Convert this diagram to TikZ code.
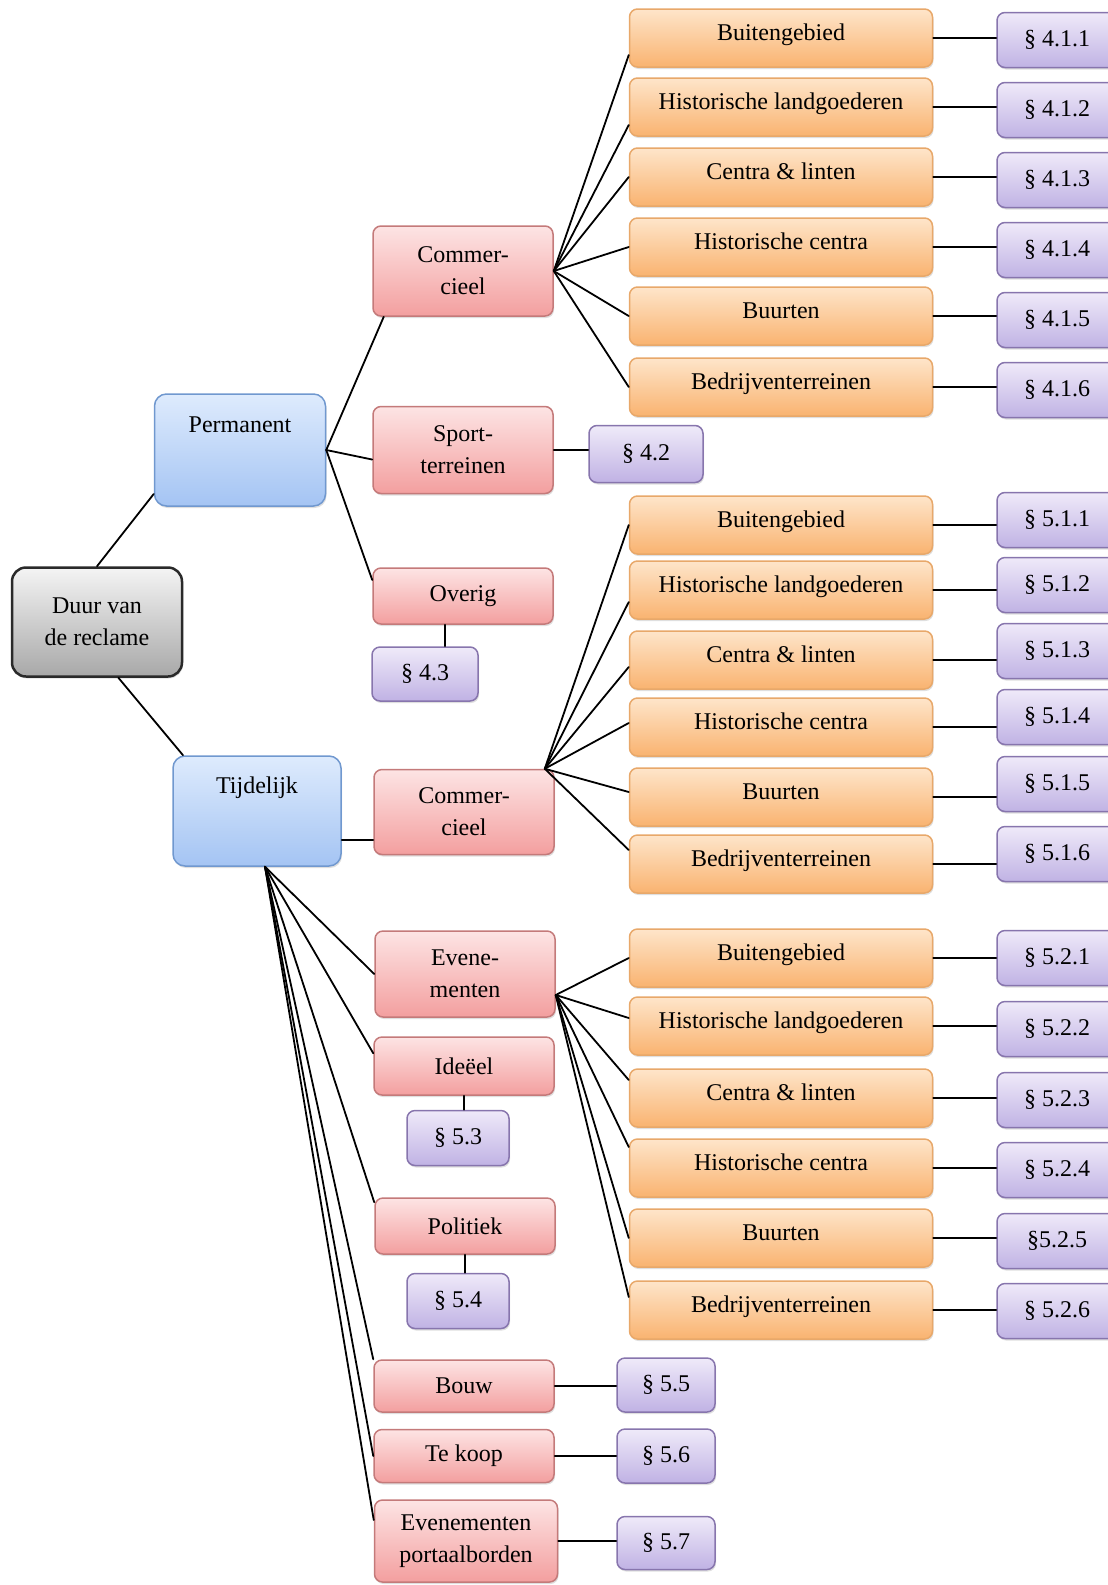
\documentclass[tikz,border=0pt]{standalone}
\usepackage{fontspec}
\setmainfont{Liberation Serif}
\usetikzlibrary{shadows}
\definecolor{roottop}{HTML}{F4F4F4}
\definecolor{rootbot}{HTML}{A8A8A8}
\definecolor{rootline}{HTML}{2A2A2A}
\definecolor{kindtop}{HTML}{DEEBFD}
\definecolor{kindbot}{HTML}{A4C4F3}
\definecolor{kindline}{HTML}{7098CF}
\definecolor{cattop}{HTML}{FDE4E4}
\definecolor{catbot}{HTML}{F39F9F}
\definecolor{catline}{HTML}{C47A7A}
\definecolor{areatop}{HTML}{FEE5CA}
\definecolor{areabot}{HTML}{F9B370}
\definecolor{arealine}{HTML}{E8A86A}
\definecolor{sectop}{HTML}{EFEAF9}
\definecolor{secbot}{HTML}{C0B2E4}
\definecolor{secline}{HTML}{8775AD}
\tikzset{
  box/.style={rounded corners=8pt, line width=1.5pt, align=center, inner sep=2pt,
    font=\fontsize{24}{32}\selectfont,
    drop shadow={shadow xshift=1pt, shadow yshift=-2pt, opacity=0.25}},
  rootbox/.style={box, draw=rootline, top color=roottop, bottom color=rootbot,
    line width=2.5pt, rounded corners=14pt},
  kindbox/.style={box, draw=kindline, top color=kindtop, bottom color=kindbot,
    rounded corners=12pt, text height=17pt, text depth=53pt},
  catbox/.style={box, draw=catline, top color=cattop, bottom color=catbot, minimum width=180pt},
  areabox/.style={box, draw=arealine, top color=areatop, bottom color=areabot,
    minimum width=303pt, minimum height=58pt, text height=17pt, text depth=13pt},
  secbox/.style={box, draw=secline, top color=sectop, bottom color=secbot,
    minimum height=55pt, text height=17pt, text depth=5pt},
  seccol/.style={secbox, minimum width=120pt},
  link/.style={line width=1.8pt, black}
}
\begin{document}
\begin{tikzpicture}[line cap=round,line join=round,x=1pt,y=-1pt]
\useasboundingbox (0,0) rectangle (1108,1585);
\clip (0,0) rectangle (1108,1585);

\node[rootbox, minimum width=170pt, minimum height=109pt] (duur) at (97,622) {Duur van\\de reclame};
\node[kindbox, minimum width=171pt, minimum height=112pt] (perm) at (240,450) {Permanent};
\node[kindbox, minimum width=168pt, minimum height=110pt] (tij) at (257,811) {Tijdelijk};

\node[catbox, minimum height=90pt] (c1) at (463,271) {Commer-\\cieel};
\node[catbox, minimum height=87pt] (sp) at (463,450) {Sport-\\terreinen};
\node[catbox, minimum height=56pt] (ov) at (463,596) {Overig};
\node[secbox, minimum width=106pt, minimum height=54pt] (s43) at (425,674) {§ 4.3};
\node[secbox, minimum width=114pt, minimum height=57pt] (s42) at (646,454) {§ 4.2};

\node[catbox, minimum height=85pt] (c2) at (464,812) {Commer-\\cieel};
\node[catbox, minimum height=86pt] (ev) at (465,974) {Evene-\\menten};
\node[catbox, minimum height=58pt] (ide) at (464,1066) {Ideëel};
\node[secbox, minimum width=102pt] (s53) at (458,1138) {§ 5.3};
\node[catbox, minimum height=56pt] (pol) at (465,1226) {Politiek};
\node[secbox, minimum width=102pt] (s54) at (458,1301) {§ 5.4};
\node[catbox, minimum height=52pt] (bouw) at (464,1386) {Bouw};
\node[catbox, minimum height=53pt] (koop) at (464,1456) {Te koop};
\node[catbox, minimum width=183pt, minimum height=82pt] (ep) at (466,1541) {Evenementen\\portaalborden};
\node[secbox, minimum width=98pt, minimum height=54pt] (s55) at (666,1385) {§ 5.5};
\node[secbox, minimum width=98pt, minimum height=54pt] (s56) at (666,1456) {§ 5.6};
\node[secbox, minimum width=98pt, minimum height=53pt] (s57) at (666,1543) {§ 5.7};

\node[areabox] (a11) at (781,38) {Buitengebied};
\node[areabox] (a12) at (781,107) {Historische landgoederen};
\node[areabox] (a13) at (781,177) {Centra \& linten};
\node[areabox] (a14) at (781,247) {Historische centra};
\node[areabox] (a15) at (781,316) {Buurten};
\node[areabox] (a16) at (781,387) {Bedrijventerreinen};
\node[seccol] (s11) at (1057,40) {§ 4.1.1};
\node[seccol] (s12) at (1057,110) {§ 4.1.2};
\node[seccol] (s13) at (1057,180) {§ 4.1.3};
\node[seccol] (s14) at (1057,250) {§ 4.1.4};
\node[seccol] (s15) at (1057,320) {§ 4.1.5};
\node[seccol] (s16) at (1057,390) {§ 4.1.6};

\node[areabox] (a21) at (781,525) {Buitengebied};
\node[areabox] (a22) at (781,590) {Historische landgoederen};
\node[areabox] (a23) at (781,660) {Centra \& linten};
\node[areabox] (a24) at (781,727) {Historische centra};
\node[areabox] (a25) at (781,797) {Buurten};
\node[areabox] (a26) at (781,864) {Bedrijventerreinen};
\node[seccol] (s21) at (1057,520) {§ 5.1.1};
\node[seccol] (s22) at (1057,585) {§ 5.1.2};
\node[seccol] (s23) at (1057,651) {§ 5.1.3};
\node[seccol] (s24) at (1057,717) {§ 5.1.4};
\node[seccol] (s25) at (1057,784) {§ 5.1.5};
\node[seccol] (s26) at (1057,854) {§ 5.1.6};

\node[areabox] (a31) at (781,958) {Buitengebied};
\node[areabox] (a32) at (781,1026) {Historische landgoederen};
\node[areabox] (a33) at (781,1098) {Centra \& linten};
\node[areabox] (a34) at (781,1168) {Historische centra};
\node[areabox] (a35) at (781,1238) {Buurten};
\node[areabox] (a36) at (781,1310) {Bedrijventerreinen};
\node[seccol] (s31) at (1057,958) {§ 5.2.1};
\node[seccol] (s32) at (1057,1029) {§ 5.2.2};
\node[seccol] (s33) at (1057,1100) {§ 5.2.3};
\node[seccol] (s34) at (1057,1170) {§ 5.2.4};
\node[seccol] (s35) at (1057,1241) {§5.2.5};
\node[seccol] (s36) at (1057,1311) {§ 5.2.6};

\coordinate (c2j) at ([xshift=-10pt]c2.north east);
\coordinate (evj) at ([yshift=-21pt]ev.east);
\coordinate (tijj) at ([xshift=8pt]tij.south);

\draw[link] (duur.north) -- (perm.207);
\draw[link] (duur.291) -- (tij.143);
\draw[link] (perm.east) -- (c1.210);
\draw[link] (perm.east) -- (sp.186);
\draw[link] (perm.east) -- (ov.170);
\draw[link] (sp.east) -- (sp.east -| s42.west);
\draw[link] ([xshift=-18pt]ov.south) -- ([xshift=-18pt]ov.south |- s43.north);

\draw[link] (c1.east) -- ([yshift=-17pt]a11.west);
\draw[link] (c1.east) -- ([yshift=-18pt]a12.west);
\draw[link] (c1.east) -- (a13.west);
\draw[link] (c1.east) -- (a14.west);
\draw[link] (c1.east) -- (a15.west);
\draw[link] (c1.east) -- (a16.west);
\draw[link] (a11.east) -- (a11.east -| s11.west);
\draw[link] (a12.east) -- (a12.east -| s12.west);
\draw[link] (a13.east) -- (a13.east -| s13.west);
\draw[link] (a14.east) -- (a14.east -| s14.west);
\draw[link] (a15.east) -- (a15.east -| s15.west);
\draw[link] (a16.east) -- (a16.east -| s16.west);

\draw[link] ([yshift=-28pt]c2.west) -- ([yshift=-28pt]c2.west -| tij.east);
\draw[link] (c2j) -- (a21.west);
\draw[link] (c2j) -- ([yshift=-12pt]a22.west);
\draw[link] (c2j) -- ([yshift=-7pt]a23.west);
\draw[link] (c2j) -- ([yshift=4pt]a24.west);
\draw[link] (c2j) -- ([yshift=5pt]a25.west);
\draw[link] (c2j) -- ([yshift=14pt]a26.west);
\draw[link] (a21.east) -- (a21.east -| s21.west);
\draw[link] (a22.east) -- (a22.east -| s22.west);
\draw[link] (a23.east) -- (a23.east -| s23.west);
\draw[link] (a24.east) -- (a24.east -| s24.west);
\draw[link] (a25.east) -- (a25.east -| s25.west);
\draw[link] (a26.east) -- (a26.east -| s26.west);

\draw[link] (tijj) -- (ev.west);
\draw[link] (tijj) -- (ide.172);
\draw[link] (tijj) -- ([yshift=-5pt]pol.north west);
\draw[link] (tijj) -- (bouw.north west);
\draw[link] (tijj) -- (koop.west);
\draw[link] (tijj) -- ([yshift=21pt]ep.west);
\draw[link] (ide.south) -- (ide.south |- s53.north);
\draw[link] (pol.south) -- (pol.south |- s54.north);
\draw[link] (bouw.east) -- (bouw.east -| s55.west);
\draw[link] (koop.east) -- (koop.east -| s56.west);
\draw[link] (ep.east) -- (ep.east -| s57.west);

\draw[link] (evj) -- (a31.west);
\draw[link] (evj) -- ([yshift=8pt]a32.west);
\draw[link] (evj) -- ([yshift=18pt]a33.west);
\draw[link] (evj) -- ([yshift=21pt]a34.west);
\draw[link] (evj) -- (a35.west);
\draw[link] (evj) -- ([yshift=13pt]a36.west);
\draw[link] (a31.east) -- (a31.east -| s31.west);
\draw[link] (a32.east) -- (a32.east -| s32.west);
\draw[link] (a33.east) -- (a33.east -| s33.west);
\draw[link] (a34.east) -- (a34.east -| s34.west);
\draw[link] (a35.east) -- (a35.east -| s35.west);
\draw[link] (a36.east) -- (a36.east -| s36.west);
\end{tikzpicture}
\end{document}
